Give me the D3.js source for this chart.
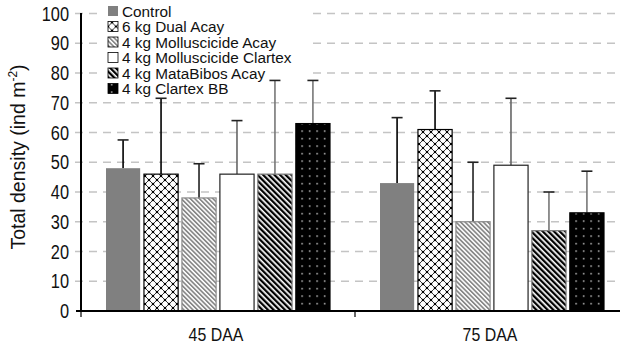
<!DOCTYPE html>
<html>
<head>
<meta charset="utf-8">
<script src="https://cdn.jsdelivr.net/npm/d3@7"></script>
<style>
  body { margin: 0; background: #fff; }
  svg { display: block; font-family: "Liberation Sans", Arial, sans-serif; }
</style>
</head>
<body>
<div id="chart"></div>
<script>
const categories = ['45 DAA', '75 DAA'];
const series = ['Control', '6 kg Dual Acay', '4 kg Molluscicide Acay', '4 kg Molluscicide Clartex', '4 kg MataBibos Acay', '4 kg Clartex BB'];
// mean and upper error bar end, per category, in series order
const means = [
    [48, 46, 38, 46, 46, 63],
    [43, 61, 30, 49, 27, 33]
];
const upper = [
    [57.5, 71.5, 49.5, 64, 77.5, 77.5],
    [65, 74, 50, 71.5, 40, 47]
];
const yTicks = [0, 10, 20, 30, 40, 50, 60, 70, 80, 90, 100];

const width = 620, height = 347;
const sx = 0.86; // horizontal squeeze of the original picture

const svg = d3.select('#chart').append('svg')
    .attr('width', width)
    .attr('height', height);

const defs = svg.append('defs');

// crosshatch with dots
const pDual = defs.append('pattern').attr('id', 'pDual')
    .attr('patternUnits', 'userSpaceOnUse').attr('width', 8).attr('height', 8);
pDual.append('rect').attr('width', 8).attr('height', 8).attr('fill', '#fff');
pDual.append('path').attr('d', 'M0,0L8,8M8,0L0,8').attr('stroke', '#000').attr('stroke-width', 0.8);
[[0, 0], [8, 0], [0, 8], [8, 8], [4, 4]].forEach(p => {
    pDual.append('circle').attr('cx', p[0]).attr('cy', p[1]).attr('r', 1.3).attr('fill', '#000');
});

// light gray diagonal stripes
const pMoll = defs.append('pattern').attr('id', 'pMoll')
    .attr('patternUnits', 'userSpaceOnUse').attr('width', 3.2).attr('height', 3.2)
    .attr('patternTransform', 'rotate(-45)');
pMoll.append('rect').attr('width', 3.2).attr('height', 3.2).attr('fill', '#fff');
pMoll.append('rect').attr('width', 1.7).attr('height', 3.2).attr('fill', '#888');

// dense black diagonal stripes
const pMata = defs.append('pattern').attr('id', 'pMata')
    .attr('patternUnits', 'userSpaceOnUse').attr('width', 4).attr('height', 4)
    .attr('patternTransform', 'rotate(-45)');
pMata.append('rect').attr('width', 4).attr('height', 4).attr('fill', '#fff');
pMata.append('rect').attr('width', 2.3).attr('height', 4).attr('fill', '#000');

// black with white dots
const pBB = defs.append('pattern').attr('id', 'pBB')
    .attr('patternUnits', 'userSpaceOnUse').attr('width', 7.5).attr('height', 7.5);
pBB.append('rect').attr('width', 7.5).attr('height', 7.5).attr('fill', '#000');
pBB.append('rect').attr('x', 3).attr('y', 3).attr('width', 1.3).attr('height', 1.3).attr('fill', '#fff');

const fills = ['#808080', 'url(#pDual)', 'url(#pMoll)', '#fff', 'url(#pMata)', 'url(#pBB)'];
const strokes = ['none', '#000', '#8a8a8a', '#222', '#777', '#000'];
const errColors = ['#000', '#000', '#222', '#666', '#777', '#777'];

const y = d3.scaleLinear().domain([0, 100]).range([311, 13.5]);
const x0 = d3.scaleBand().domain(categories).range([81, 629]);
const x1 = d3.scaleBand().domain(series).range([25, 249]).paddingInner(0.1);

// gridlines
svg.append('g').selectAll('line')
    .data(yTicks.filter(d => d > 0))
    .enter().append('line')
    .attr('x1', 75).attr('x2', width)
    .attr('y1', d => y(d)).attr('y2', d => y(d))
    .attr('stroke', '#c4c4c4')
    .attr('stroke-width', 1.3)
    .attr('stroke-dasharray', '8,6');

// legend background hides the grid behind it
const legend = svg.append('g');
legend.append('rect')
    .attr('x', 98).attr('y', 0).attr('width', 212).attr('height', 93)
    .attr('fill', '#fff');

const rows = legend.selectAll('g.item')
    .data(series)
    .enter().append('g')
    .attr('class', 'item')
    .attr('transform', (d, i) => `translate(108,${11 + i * 15.5})`);
rows.append('rect')
    .attr('x', 0).attr('y', -5).attr('width', 10).attr('height', 10)
    .attr('fill', (d, i) => fills[i])
    .attr('stroke', (d, i) => i === 0 ? 'none' : '#000')
    .attr('stroke-width', 0.8);
rows.append('text')
    .attr('transform', `translate(14,0) scale(0.99,1)`)
    .attr('dy', '0.36em')
    .attr('font-size', 15.5)
    .attr('fill', '#111')
    .text(d => d);

// bars and error bars
const groups = svg.append('g').selectAll('g')
    .data(categories)
    .enter().append('g')
    .attr('transform', d => `translate(${x0(d)},0)`);

groups.each(function(cat, ci) {
    const g = d3.select(this);
    const items = series.map((s, i) => ({ s, i, v: means[ci][i], u: upper[ci][i] }));

    g.selectAll('line.err')
        .data(items)
        .enter().append('line')
        .attr('class', 'err')
        .attr('x1', d => x1(d.s) + x1.bandwidth() / 2)
        .attr('x2', d => x1(d.s) + x1.bandwidth() / 2)
        .attr('y1', d => y(d.v)).attr('y2', d => y(d.u))
        .attr('stroke', d => errColors[d.i])
        .attr('stroke-width', 1.6);

    g.selectAll('line.cap')
        .data(items)
        .enter().append('line')
        .attr('class', 'cap')
        .attr('x1', d => x1(d.s) + x1.bandwidth() / 2 - 5.5)
        .attr('x2', d => x1(d.s) + x1.bandwidth() / 2 + 5.5)
        .attr('y1', d => y(d.u)).attr('y2', d => y(d.u))
        .attr('stroke', '#222')
        .attr('stroke-width', 1.6);

    g.selectAll('rect.bar')
        .data(items)
        .enter().append('rect')
        .attr('class', 'bar')
        .attr('x', d => x1(d.s))
        .attr('width', x1.bandwidth())
        .attr('y', d => y(d.v))
        .attr('height', d => y(0) - y(d.v))
        .attr('fill', d => fills[d.i])
        .attr('stroke', d => strokes[d.i])
        .attr('stroke-width', 1.2);
});

// y axis
svg.append('line')
    .attr('x1', 81).attr('x2', 81).attr('y1', 13).attr('y2', 312)
    .attr('stroke', '#000').attr('stroke-width', 2);
svg.append('g').selectAll('text')
    .data(yTicks)
    .enter().append('text')
    .attr('transform', d => `translate(69,${y(d)}) scale(0.84,1)`)
    .attr('dy', '0.36em')
    .attr('text-anchor', 'end')
    .attr('font-size', 19.5)
    .attr('fill', '#111')
    .text(d => d);

// x axis
svg.append('line')
    .attr('x1', 76).attr('x2', width).attr('y1', 311).attr('y2', 311)
    .attr('stroke', '#000').attr('stroke-width', 2.2);
svg.append('g').selectAll('line')
    .data(categories)
    .enter().append('line')
    .attr('x1', d => x0(d)).attr('x2', d => x0(d))
    .attr('y1', 311).attr('y2', 317)
    .attr('stroke', '#000').attr('stroke-width', 1.2);
svg.append('g').selectAll('text')
    .data(categories)
    .enter().append('text')
    .attr('transform', d => `translate(${x0(d) + x0.bandwidth() / 2 - 2},334) scale(${sx},1)`)
    .attr('dy', '0.36em')
    .attr('text-anchor', 'middle')
    .attr('font-size', 18.5)
    .attr('fill', '#111')
    .text(d => d);

// y title
const yt = svg.append('text')
    .attr('transform', 'translate(25,157) rotate(-90)')
    .attr('text-anchor', 'middle')
    .attr('font-size', 19.5)
    .attr('fill', '#111');
yt.append('tspan').text('Total density (ind m');
yt.append('tspan').attr('font-size', 12).attr('dy', -8).text('-2');
yt.append('tspan').attr('dy', 8).text(')');
</script>
</body>
</html>
